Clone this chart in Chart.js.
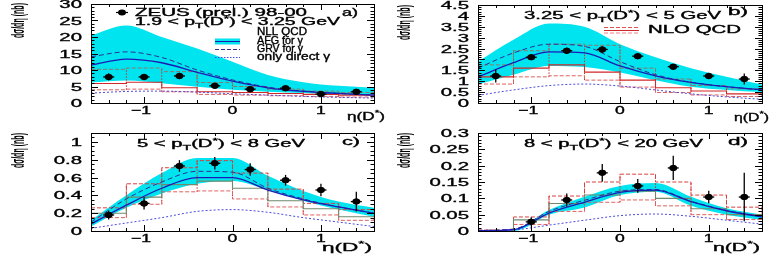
<!DOCTYPE html>
<html><head><meta charset="utf-8">
<script src="https://cdn.jsdelivr.net/npm/chart.js@4.4.0/dist/chart.umd.min.js"></script>
<style>
html,body{margin:0;padding:0;background:#fff;width:772px;height:256px;overflow:hidden}
.p{position:absolute;width:386px;height:128px}
canvas{display:block}
</style></head><body>
<div class="p" style="left:0;top:0"><canvas id="ca" width="386" height="128"></canvas></div>
<div class="p" style="left:386px;top:0"><canvas id="cb" width="386" height="128"></canvas></div>
<div class="p" style="left:0;top:128px"><canvas id="cc" width="386" height="128"></canvas></div>
<div class="p" style="left:386px;top:128px"><canvas id="cd" width="386" height="128"></canvas></div>
<script>
// ---------- data ----------
const curveEta = [-1.6,-1.2,-0.8,-0.4,0,0.4,0.8,1.2,1.6];
const binEdges = [-1.6,-1.2,-0.8,-0.4,0,0.4,0.8,1.2,1.6];
const dataEta8 = [-1.4,-1.0,-0.6,-0.2,0.2,0.6,1.0,1.4];
const dataEta7 = [-1.0,-0.6,-0.2,0.2,0.6,1.0,1.4];
const xTickValues = [-1,0,1];

// panel a: 1.9 < pT < 3.25 GeV
const aUp   = [20.5,23.5,20,16.5,12.5,8.5,6.3,5.2,4.6];
const aLo   = [6.2,6.8,6.0,4.9,4.0,3.4,3.0,2.6,2.3];
const aAFG  = [11.5,13.3,12.2,9.3,6.6,4.6,3.5,2.9,2.4];
const aGRV  = [14,15.5,13.8,10,7,4.8,3.6,2.9,2.4];
const aDir  = [3.0,3.5,3.6,3.3,2.8,2.4,2.0,1.7,1.5];
const aNloC = [5.9,6.3,4.6,3.4,3.2,2.9,2.6,2.4];
const aNloLo= [4.0,4.2,3.4,2.6,2.4,2.2,2.0,1.8];
const aNloUp= [10.2,10.6,9.5,6.2,5.0,4.2,3.6,3.2];
const aData = [7.9,7.9,8.2,5.2,4.2,4.5,2.7,3.4];
const aErr  = [1.1,1.0,1.0,0.8,0.6,0.6,0.6,0.8];
const aYTicks = [0,5,10,15,20,25,30];
const aYLabels = ['0','5','10','15','20','25','30'];

// panel b: 3.25 < pT < 5 GeV
const bUp   = [1.9,2.9,3.65,3.5,2.7,2.1,1.6,1.2,0.85];
const bLo   = [0.85,1.3,1.7,1.65,1.4,1.05,0.75,0.6,0.5];
const bAFG  = [1.2,1.85,2.35,2.3,1.7,1.25,0.95,0.75,0.6];
const bGRV  = [1.6,2.3,2.7,2.6,1.9,1.3,0.95,0.75,0.6];
const bDir  = [0.35,0.6,0.8,0.87,0.78,0.6,0.42,0.28,0.17];
const bNloC = [1.2,1.6,1.75,1.42,1.05,0.7,0.55,0.42];
const bNloLo= [0.87,1.2,1.25,1.05,0.73,0.48,0.37,0.3];
const bNloUp= [1.75,2.4,2.7,2.65,1.6,1.1,0.8,0.65];
const bData = [1.24,2.1,2.4,2.46,2.15,1.67,1.24,1.1];
const bErr  = [0.3,0.12,0.15,0.15,0.12,0.12,0.15,0.25];
const bYTicks = [0,0.5,1,1.5,2,2.5,3,3.5,4,4.5];
const bYLabels = ['0','0.5','1','1.5','2','2.5','3','3.5','4','4.5'];

// panel c: 5 < pT < 8 GeV
const cUp   = [0.12,0.4,0.65,0.82,0.82,0.62,0.45,0.33,0.26];
const cLo   = [0.05,0.26,0.42,0.53,0.56,0.46,0.34,0.24,0.16];
const cAFG  = [0.08,0.29,0.48,0.6,0.6,0.46,0.35,0.27,0.2];
const cGRV  = [0.1,0.36,0.55,0.67,0.66,0.48,0.36,0.27,0.2];
const cDir  = [0.03,0.09,0.15,0.22,0.24,0.21,0.15,0.1,0.05];
const cNloC = [0.2,0.38,0.52,0.56,0.48,0.34,0.25,0.16];
const cNloLo= [0.15,0.3,0.44,0.45,0.36,0.27,0.18,0.12];
const cNloUp= [0.26,0.53,0.71,0.79,0.65,0.47,0.31,0.24];
const cData = [0.18,0.31,0.73,0.76,0.69,0.57,0.46,0.33];
const cErr  = [0.05,0.07,0.065,0.07,0.07,0.06,0.07,0.11];
const cYTicks = [0,0.2,0.4,0.6,0.8,1];
const cYLabels = ['0','0.2','0.4','0.6','0.8','1'];

// panel d: 8 < pT < 20 GeV
const dUp   = [0.0,0.004,0.064,0.105,0.138,0.147,0.105,0.07,0.05];
const dLo   = [0.0,0.0,0.05,0.072,0.11,0.12,0.077,0.05,0.034];
const dAFG  = [0.001,0.004,0.055,0.088,0.118,0.125,0.09,0.062,0.043];
const dGRV  = [0.002,0.006,0.06,0.094,0.122,0.127,0.091,0.063,0.044];
const dDir  = [0,0.003,0.018,0.033,0.047,0.052,0.045,0.033,0.021];
const dNloC = [0.001,0.034,0.084,0.11,0.122,0.1,0.068,0.05];
const dNloLo= [0.0,0.02,0.06,0.088,0.095,0.077,0.05,0.035];
const dNloUp= [0.003,0.043,0.107,0.15,0.174,0.15,0.11,0.073];
const dData = [0.028,0.095,0.178,0.138,0.193,0.104,0.104];
const dErr  = [0.014,0.02,0.027,0.021,0.037,0.019,0.074];
const dYTicks = [0,0.05,0.1,0.15,0.2,0.25,0.3];
const dYLabels = ['0','0.05','0.1','0.15','0.2','0.25','0.3'];

// ---------- helpers ----------
const FONT = '"Liberation Sans", Arial, Helvetica, sans-serif';
const CYAN = '#00e4f0';
function setFont(ctx,size,bold){ctx.font=(bold?'bold ':'')+size+'px '+FONT;}
function segWidth(ctx,segs,size,bold){let w=0;for(const s of segs){const t=Array.isArray(s)?s[0]:s,k=Array.isArray(s)?s[1]:0;setFont(ctx,k?size*0.7:size,bold);w+=ctx.measureText(t).width;}return w;}
function drawSegs(ctx,segs,size,bold,stroke){let x=0;for(const s of segs){const t=Array.isArray(s)?s[0]:s,k=Array.isArray(s)?s[1]:0;setFont(ctx,k?size*0.7:size,bold);const dy=k===1?size*0.28:(k===2?-size*0.42:0);ctx.fillText(t,x,dy);if(stroke){ctx.strokeText(t,x,dy);}x+=ctx.measureText(t).width;}}
function textFit(ctx,segs,x0,x1,base,size,bold){const w=segWidth(ctx,segs,size,bold);ctx.save();ctx.fillStyle='#000';ctx.strokeStyle='#000';ctx.lineWidth=0.35;ctx.textAlign='left';ctx.textBaseline='alphabetic';ctx.translate(x0,base);ctx.scale((x1-x0)/w,1);drawSegs(ctx,segs,size,bold,true);ctx.restore();}
function textStretch(ctx,str,x,base,size,sx,align){setFont(ctx,size,false);const w=ctx.measureText(str).width*sx;let x0=x;if(align==='center')x0=x-w/2;else if(align==='right')x0=x-w;ctx.save();ctx.fillStyle='#000';ctx.strokeStyle='#000';ctx.lineWidth=0.35;ctx.textAlign='left';ctx.textBaseline='alphabetic';ctx.translate(x0,base);ctx.scale(sx,1);ctx.fillText(str,0,0);ctx.strokeText(str,0,0);ctx.restore();}
function yTitle(ctx,bx,yTop,yBot){const segs=['d\u03c3/d\u03b7 (nb)'];const size=9;const w=segWidth(ctx,segs,size,true);ctx.save();ctx.fillStyle='#000';ctx.textAlign='left';ctx.textBaseline='alphabetic';ctx.translate(bx,yBot);ctx.rotate(-Math.PI/2);ctx.scale((yBot-yTop)/w,2.1);drawSegs(ctx,segs,size,true,false);ctx.restore();}
function seg(ctx,x0,y0,x1,y1,color,w,dash){ctx.save();ctx.strokeStyle=color;ctx.lineWidth=w;ctx.setLineDash(dash||[]);ctx.beginPath();ctx.moveTo(x0,y0);ctx.lineTo(x1,y1);ctx.stroke();ctx.restore();}

const pts=(xs,ys)=>xs.map((x,i)=>({x:x,y:ys[i]}));
const steps=(vals)=>{const a=vals.map((v,i)=>({x:binEdges[i],y:v}));a.push({x:binEdges[binEdges.length-1],y:vals[vals.length-1]});return a;};
const boxEdges=(lo,up)=>{const out=[];for(let i=0;i<binEdges.length;i++){const l=[],u=[];if(i>0){l.push(lo[i-1]);u.push(up[i-1]);}if(i<lo.length){l.push(lo[i]);u.push(up[i]);}out.push({x:binEdges[i],y:Math.min(...l)},{x:binEdges[i],y:Math.max(...u)},{x:binEdges[i],y:null});}return out;};

// ---------- panels ----------
const panels = [
 {id:'ca',yMax:30,yt:aYTicks,yl:aYLabels,minor:1,top:4,left:91,right:12,up:aUp,lo:aLo,afg:aAFG,grv:aGRV,dir:aDir,nc:aNloC,nl:aNloLo,nu:aNloUp,de:dataEta8,d:aData,e:aErr,ab:true,
  texts:(ctx)=>{
   ctx.save();ctx.fillStyle='#000';ctx.beginPath();ctx.ellipse(122,12.5,4,3,0,0,Math.PI*2);ctx.fill();ctx.restore();
   seg(ctx,116,12.5,128,12.5,'#000',1.2);
   textFit(ctx,['ZEUS (prel.) 98-00'],135,307,16,10);
   textFit(ctx,['1.9 < p',['T',1],'(D',['*',2],') < 3.25 GeV'],135,340,25,10);
   textFit(ctx,['a)'],342,358,16,10);
   textFit(ctx,['NLL QCD'],257,307,35,10);
   ctx.save();ctx.fillStyle=CYAN;ctx.fillRect(215,38.5,25,6);ctx.restore();
   seg(ctx,215,41.5,240,41.5,'#1c1cb4',1);
   textFit(ctx,['AFG for \u03b3'],257,303,44,10);
   seg(ctx,215,49.5,240,49.5,'#303090',1,[4,2]);
   textFit(ctx,['GRV for \u03b3'],257,303,52,10);
   seg(ctx,215,57.5,240,57.5,'#4a4ae0',1,[1.5,1.5]);
   textFit(ctx,['only direct \u03b3'],257,330,60,10);
   textFit(ctx,['\u03b7(D',['*',2],')'],347,385,120,11);
  }},
 {id:'cb',yMax:4.5,yt:bYTicks,yl:bYLabels,minor:0.1,top:5,left:92,right:10,up:bUp,lo:bLo,afg:bAFG,grv:bGRV,dir:bDir,nc:bNloC,nl:bNloLo,nu:bNloUp,de:dataEta8,d:bData,e:bErr,ab:true,
  texts:(ctx)=>{
   textFit(ctx,['3.25 < p',['T',1],'(D',['*',2],') < 5 GeV'],138,335,19,10);
   textFit(ctx,['b)'],342,362,15,10);
   seg(ctx,218,27.5,253,27.5,'#e05050',1,[4,2]);
   seg(ctx,218,30.5,253,30.5,'#d02828',1);
   seg(ctx,218,33,253,33,'#f08080',1,[4,2]);
   textFit(ctx,['NLO QCD'],262,355,33,10);
   textFit(ctx,['\u03b7(D',['*',2],')'],348,383,121,11);
  }},
 {id:'cc',yMax:1.1,yt:cYTicks,yl:cYLabels,minor:0.05,top:5,left:91,right:12,up:cUp,lo:cLo,afg:cAFG,grv:cGRV,dir:cDir,nc:cNloC,nl:cNloLo,nu:cNloUp,de:dataEta8,d:cData,e:cErr,ab:false,
  texts:(ctx)=>{
   textFit(ctx,['5 < p',['T',1],'(D',['*',2],') < 8 GeV'],137,305,19,10);
   textFit(ctx,['c)'],342,360,17,10);
   textFit(ctx,['\u03b7(D',['*',2],')'],322,372,123,11);
  }},
 {id:'cd',yMax:0.3,yt:dYTicks,yl:dYLabels,minor:0.01,top:5,left:92,right:10,up:dUp,lo:dLo,afg:dAFG,grv:dGRV,dir:dDir,nc:dNloC,nl:dNloLo,nu:dNloUp,de:dataEta7,d:dData,e:dErr,ab:false,
  texts:(ctx)=>{
   textFit(ctx,['8 < p',['T',1],'(D',['*',2],') < 20 GeV'],138,317,19,10);
   textFit(ctx,['d)'],342,362,17,10);
   textFit(ctx,['\u03b7(D',['*',2],')'],327,374,123,11);
  }}
];
const panelById = {};
panels.forEach(p=>{panelById[p.id]=p;});

const deco = {
 id:'deco',
 afterDatasetsDraw(chart){
  const p=panelById[chart.canvas.id]; const ctx=chart.ctx; const xs=chart.scales.x, ys=chart.scales.y;
  ctx.save(); ctx.strokeStyle='#000'; ctx.fillStyle='#000'; ctx.lineWidth=1.3;
  p.de.forEach((x,i)=>{const px=xs.getPixelForValue(x);const y0=ys.getPixelForValue(p.d[i]-p.e[i]);const y1=ys.getPixelForValue(p.d[i]+p.e[i]);
   ctx.beginPath();ctx.moveTo(px,y0);ctx.lineTo(px,y1);ctx.stroke();
   const py=ys.getPixelForValue(p.d[i]);ctx.beginPath();ctx.moveTo(px-5.5,py);ctx.lineTo(px+5.5,py);ctx.stroke();
   ctx.beginPath();ctx.ellipse(px,py,4,3,0,0,Math.PI*2);ctx.fill();});
  ctx.restore();
 },
 afterDraw(chart){
  const p=panelById[chart.canvas.id]; const ctx=chart.ctx; const xs=chart.scales.x, ys=chart.scales.y; const ca=chart.chartArea;
  ctx.save();ctx.strokeStyle='#000';ctx.lineWidth=1;
  ctx.strokeRect(Math.round(ca.left)+0.5,Math.round(ca.top)+0.5,Math.round(ca.right-ca.left),Math.round(ca.bottom-ca.top));
  for(let k=-8;k<=8;k++){const v=k*0.2;const major=(k%5===0);const len=major?6:3;const px=Math.round(xs.getPixelForValue(v))+0.5;
   ctx.beginPath();ctx.moveTo(px,ca.bottom);ctx.lineTo(px,ca.bottom-len);ctx.moveTo(px,ca.top);ctx.lineTo(px,ca.top+len);ctx.stroke();}
  const majorStep=p.yt[1]-p.yt[0]; const n=Math.round(p.yMax/p.minor);
  for(let k=0;k<=n;k++){const v=k*p.minor;const r=v/majorStep;const major=Math.abs(r-Math.round(r))<1e-6;const len=major?7:3.5;const py=Math.round(ys.getPixelForValue(v))+0.5;
   ctx.beginPath();ctx.moveTo(ca.left,py);ctx.lineTo(ca.left+len,py);ctx.moveTo(ca.right,py);ctx.lineTo(ca.right-len,py);ctx.stroke();}
  ctx.restore();
  p.yt.forEach((v,i)=>{textStretch(ctx,p.yl[i],ca.left-9,ys.getPixelForValue(v)+4,11,1.85,'right');});
  xTickValues.forEach(v=>{textStretch(ctx,String(v).replace('-','\u2212'),xs.getPixelForValue(v)-(v<0?3:0),114,11,1.6,'center');});
  yTitle(ctx,24,p.top===4?3:5,p.top===4?38:40);
  p.texts(ctx);
 }
};

panels.forEach(p=>{
 const upC = p.ab ? '#8a7a6a' : '#d84040';
 const cC  = p.ab ? '#d02828' : '#6d8a6d';
 const datasets=[
  {data:pts(p.de,p.d),showLine:false,pointRadius:3,pointBackgroundColor:'#000',pointBorderColor:'#000',pointBorderWidth:0},
  {data:pts(curveEta,p.afg),borderColor:'#1c1cb4',borderWidth:1.3,pointRadius:0,cubicInterpolationMode:'monotone'},
  {data:pts(curveEta,p.grv),borderColor:'#303090',borderWidth:1,borderDash:[5,3],pointRadius:0,cubicInterpolationMode:'monotone'},
  {data:pts(curveEta,p.dir),borderColor:'#4a4ae0',borderWidth:1,borderDash:[2,2],pointRadius:0,cubicInterpolationMode:'monotone'},
  {data:steps(p.nc),borderColor:cC,borderWidth:1.1,pointRadius:0,stepped:true},
  {data:steps(p.nu),borderColor:upC,borderWidth:1,borderDash:[4,2],pointRadius:0,stepped:true},
  {data:steps(p.nl),borderColor:'#e06060',borderWidth:1,borderDash:[4,2],pointRadius:0,stepped:true},
  {data:boxEdges(p.nl,p.nu),borderColor:'#d03030',borderWidth:1,borderDash:[1.5,1.5],pointRadius:0,spanGaps:false},
  {data:pts(curveEta,p.up),borderWidth:0,borderColor:'rgba(0,0,0,0)',pointRadius:0,cubicInterpolationMode:'monotone',fill:'+1',backgroundColor:CYAN},
  {data:pts(curveEta,p.lo),borderWidth:0,borderColor:'rgba(0,0,0,0)',pointRadius:0,cubicInterpolationMode:'monotone'}
 ];
 new Chart(document.getElementById(p.id),{
  type:'line',
  data:{datasets:datasets},
  options:{
   responsive:false,animation:false,devicePixelRatio:1,events:[],
   layout:{padding:{top:p.top,right:p.right,left:0,bottom:0}},
   plugins:{legend:{display:false},tooltip:{enabled:false},filler:{drawTime:'beforeDatasetsDraw'}},
   scales:{
    x:{type:'linear',min:-1.6,max:1.6,grid:{display:false},border:{display:false},ticks:{display:false},afterFit:s=>{s.height=25;}},
    y:{type:'linear',min:0,max:p.yMax,grid:{display:false},border:{display:false},ticks:{display:false},afterFit:s=>{s.width=p.left;}}
   }
  },
  plugins:[deco]
 });
});
</script>
</body></html>
